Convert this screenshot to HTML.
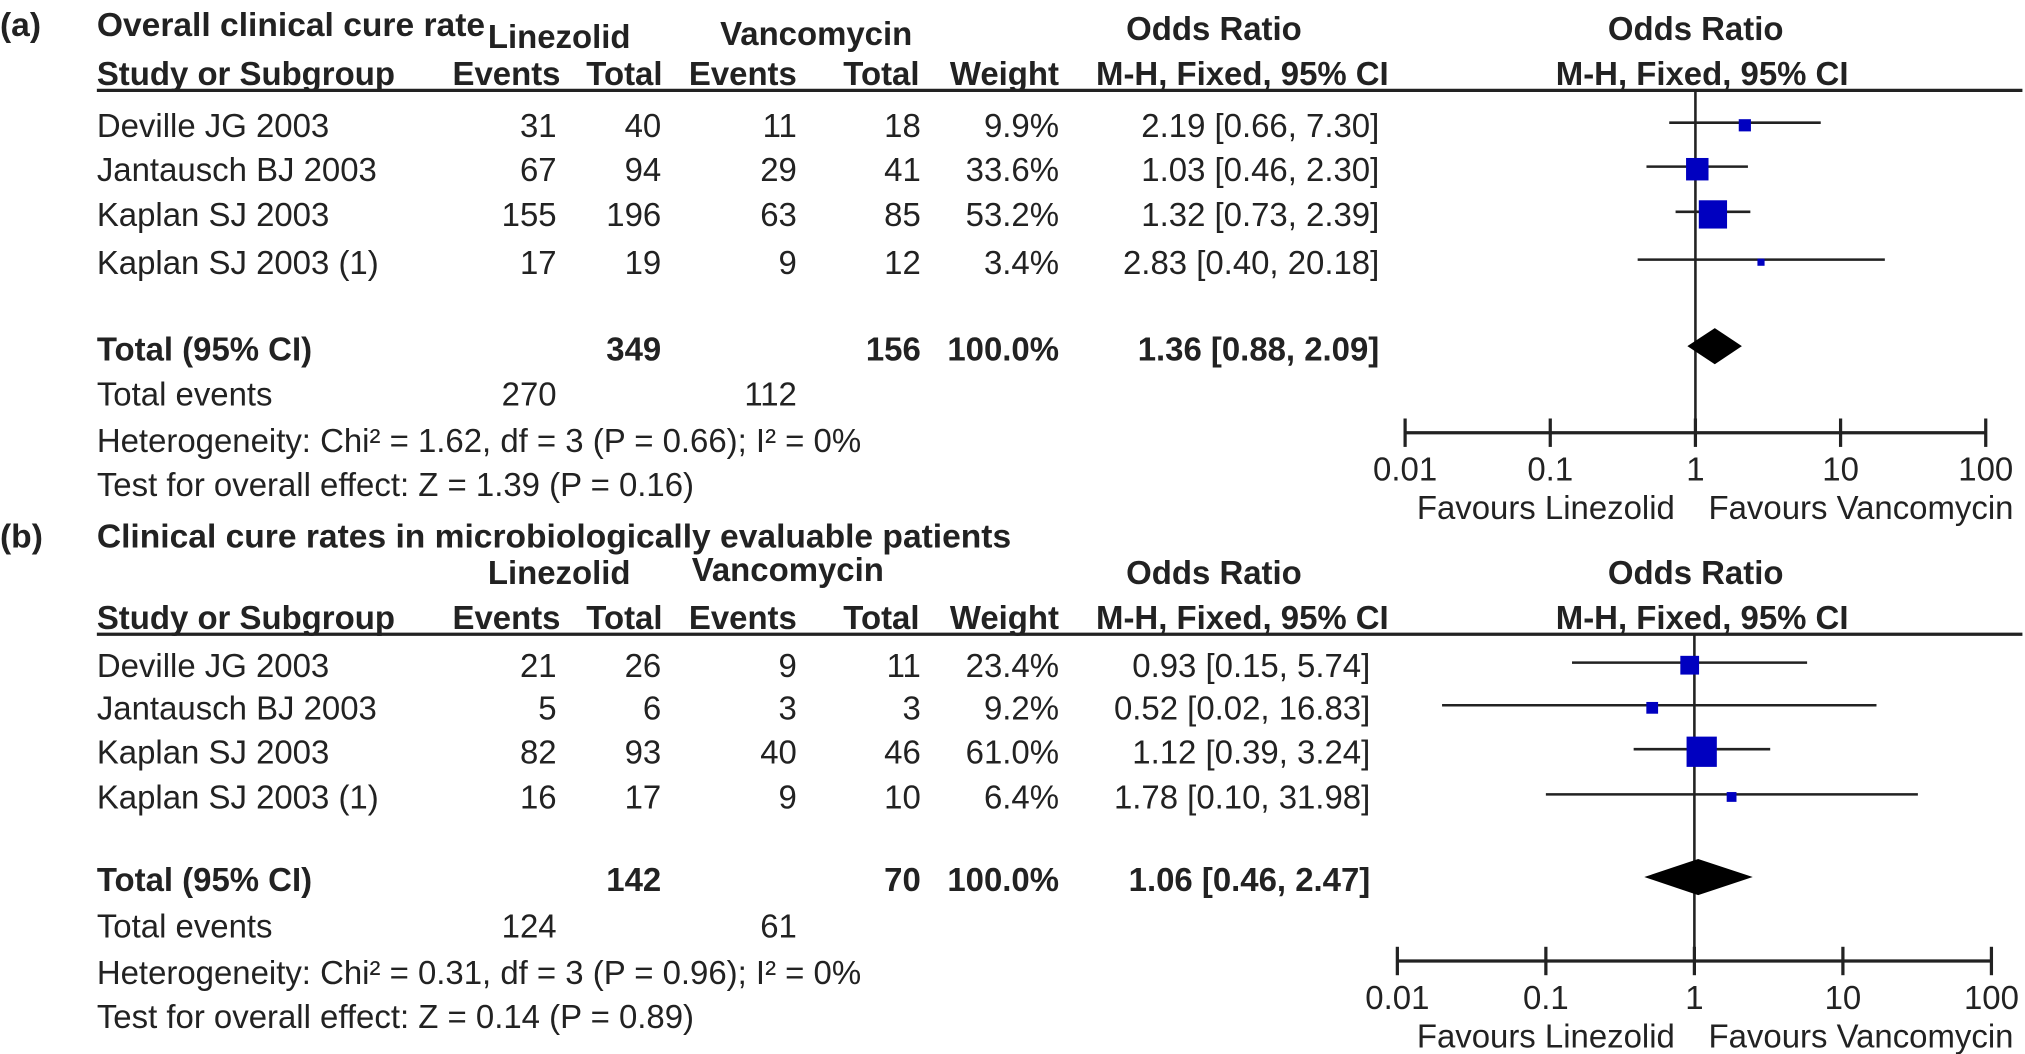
<!DOCTYPE html>
<html><head><meta charset="utf-8">
<style>
html,body{margin:0;padding:0;background:#fff;}
svg{display:block;}
text{font-family:"Liberation Sans",Arial,sans-serif;fill:#222;}
</style></head>
<body>
<svg id="chart" width="2025" height="1054" viewBox="0 0 1568 816" preserveAspectRatio="none" xmlns="http://www.w3.org/2000/svg"></svg>
<script>
// ---- Panel (a) data ----
const studiesA = ["Deville JG 2003","Jantausch BJ 2003","Kaplan SJ 2003","Kaplan SJ 2003 (1)"];
const linEventsA = [31,67,155,17];
const linTotalA = [40,94,196,19];
const vanEventsA = [11,29,63,9];
const vanTotalA = [18,41,85,12];
const weightA = [9.9,33.6,53.2,3.4];
const orA = [2.19,1.03,1.32,2.83];
const loA = [0.66,0.46,0.73,0.40];
const hiA = [7.30,2.30,2.39,20.18];
const totalA = {lin:349, van:156, ev1:270, ev2:112, or:1.36, lo:0.88, hi:2.09};
const hetA = "Heterogeneity: Chi\u00b2 = 1.62, df = 3 (P = 0.66); I\u00b2 = 0%";
const testA = "Test for overall effect: Z = 1.39 (P = 0.16)";
// ---- Panel (b) data ----
const studiesB = ["Deville JG 2003","Jantausch BJ 2003","Kaplan SJ 2003","Kaplan SJ 2003 (1)"];
const linEventsB = [21,5,82,16];
const linTotalB = [26,6,93,17];
const vanEventsB = [9,3,40,9];
const vanTotalB = [11,3,46,10];
const weightB = [23.4,9.2,61.0,6.4];
const orB = [0.93,0.52,1.12,1.78];
const loB = [0.15,0.02,0.39,0.10];
const hiB = [5.74,16.83,3.24,31.98];
const totalB = {lin:142, van:70, ev1:124, ev2:61, or:1.06, lo:0.46, hi:2.47};
const hetB = "Heterogeneity: Chi\u00b2 = 0.31, df = 3 (P = 0.96); I\u00b2 = 0%";
const testB = "Test for overall effect: Z = 0.14 (P = 0.89)";
const tickValues = [0.01,0.1,1,10,100];
const tickLabels = ["0.01","0.1","1","10","100"];

const svg = document.getElementById('chart');
const NS = "http://www.w3.org/2000/svg";
const FS = 25.5;
function el(tag, attrs, parent){
  const e = document.createElementNS(NS, tag);
  for (const k in attrs) e.setAttribute(k, attrs[k]);
  (parent||svg).appendChild(e);
  return e;
}
function txt(s, x, y, anchor, bold, size, name, parent){
  const t = el('text', {x:x, y:y, 'text-anchor':anchor||'start', 'font-size':size||FS, 'font-weight':bold?'bold':'normal'}, parent);
  t.textContent = s;
  
  
  return t;
}
function f2(v){return v.toFixed(2);}
function ciText(o,l,h){return f2(o)+" ["+f2(l)+", "+f2(h)+"]";}

function panel(cfg){
  const g = el('g', {});
  
  
  const P = cfg;
  txt(P.label, 0, P.titleY, 'start', true, 26, 'panel-label', g);
  txt(P.title, 75, P.titleY, 'start', true, P.titleSize, 'panel-title', g);
  txt("Linezolid", 433, P.groupY, 'middle', true, FS, 'linezolid-header', g);
  txt("Vancomycin", P.vanX, P.groupY - 2, 'middle', true, FS, 'vancomycin-header', g);
  txt("Odds Ratio", 940, P.orY, 'middle', true, FS, 'odds-ratio-header', g);
  txt("Odds Ratio", 1313, P.orY, 'middle', true, FS, 'forest-odds-ratio-header', g);
  const hy = P.headY;
  txt("Study or Subgroup", 75, hy, 'start', true, FS, 'study-column-header', g);
  txt("Events", 434, hy, 'end', true, FS, 'linezolid-events-header', g);
  txt("Total", 513, hy, 'end', true, FS, 'linezolid-total-header', g);
  txt("Events", 617, hy, 'end', true, FS, 'vancomycin-events-header', g);
  txt("Total", 712, hy, 'end', true, FS, 'vancomycin-total-header', g);
  txt("Weight", 820, hy, 'end', true, FS, 'weight-header', g);
  txt("M-H, Fixed, 95% CI", 962, hy, 'middle', true, FS, 'or-ci-header', g);
  txt("M-H, Fixed, 95% CI", 1318, hy, 'middle', true, FS, 'forest-ci-header', g);
  const ly = hy + 4;
  const hl = el('line', {x1:75, x2:1566, y1:ly, y2:ly, stroke:'#222', 'stroke-width':2.5}, g);
  
  

  const x0 = P.axX0, dec = P.dec;
  function xs(v){return x0 + (Math.log10(v) + 2) * dec;}
  const xc = xs(1);
  const vl = el('line', {x1:xc, x2:xc, y1:ly, y2:P.axisY, stroke:'#222', 'stroke-width':2}, g);
  
  
  const ax = el('line', {x1:xs(tickValues[0]), x2:xs(tickValues[tickValues.length-1]), y1:P.axisY, y2:P.axisY, stroke:'#222', 'stroke-width':2.5}, g);
  
  
  tickValues.forEach((v,i)=>{
    const t = el('line', {x1:xs(v), x2:xs(v), y1:P.axisY-11, y2:P.axisY+11, stroke:'#222', 'stroke-width':2.5}, g);
    
    
    txt(tickLabels[i], xs(v), P.axisY+37, 'middle', false, FS, 'x-tick-label', g);
  });
  txt("Favours Linezolid", 1197, P.axisY+67, 'middle', false, FS, 'favours-linezolid-label', g);
  txt("Favours Vancomycin", 1441, P.axisY+67, 'middle', false, FS, 'favours-vancomycin-label', g);

  P.studies.forEach((s,i)=>{
    const y = P.rowY[i];
    txt(s, 75, y, 'start', false, FS, 'study-name', g);
    txt(String(P.le[i]), 431, y, 'end', false, FS, 'linezolid-events', g);
    txt(String(P.lt[i]), 512, y, 'end', false, FS, 'linezolid-total', g);
    txt(String(P.ve[i]), 617, y, 'end', false, FS, 'vancomycin-events', g);
    txt(String(P.vt[i]), 713, y, 'end', false, FS, 'vancomycin-total', g);
    txt(P.w[i].toFixed(1)+"%", 820, y, 'end', false, FS, 'study-weight', g);
    txt(ciText(P.or[i],P.lo[i],P.hi[i]), P.ciR, y, 'end', false, FS, 'study-odds-ratio', g);
    const cy = y - 11;
    const ci = el('line', {x1:xs(P.lo[i]), x2:xs(P.hi[i]), y1:cy, y2:cy, stroke:'#222', 'stroke-width':2}, g);
    
    
    const sz = 3 * Math.sqrt(P.w[i]);
    const sq = el('rect', {x:xs(P.or[i])-sz/2, y:cy-sz/2+2, width:sz, height:sz, fill:'#0000c0'}, g);
    
    
  });
  const T = P.total, ty = P.totY;
  txt("Total (95% CI)", 75, ty, 'start', true, FS, 'total-label', g);
  txt(String(T.lin), 512, ty, 'end', true, FS, 'linezolid-total-n', g);
  txt(String(T.van), 713, ty, 'end', true, FS, 'vancomycin-total-n', g);
  txt("100.0%", 820, ty, 'end', true, FS, 'total-weight', g);
  txt(ciText(T.or,T.lo,T.hi), P.ciR, ty, 'end', true, FS, 'pooled-odds-ratio', g);
  const dy = ty - 11;
  const d = el('polygon', {points:[xs(T.lo)+','+dy, xs(T.or)+','+(dy-14), xs(T.hi)+','+dy, xs(T.or)+','+(dy+14)].join(' '), fill:'#000'}, g);
  
  
  txt("Total events", 75, P.evY, 'start', false, FS, 'total-events-label', g);
  txt(String(T.ev1), 431, P.evY, 'end', false, FS, 'linezolid-total-events', g);
  txt(String(T.ev2), 617, P.evY, 'end', false, FS, 'vancomycin-total-events', g);
  txt(P.het, 75, P.evY+36, 'start', false, FS, 'heterogeneity-text', g);
  txt(P.test, 75, P.evY+70, 'start', false, FS, 'overall-effect-text', g);
}

panel({name:'panel-a', label:'(a)', title:'Overall clinical cure rate', titleSize:26, titleY:28, groupY:37, orY:31, vanX:632, headY:66,
  studies:studiesA, le:linEventsA, lt:linTotalA, ve:vanEventsA, vt:vanTotalA, w:weightA, or:orA, lo:loA, hi:hiA,
  rowY:[106,140,175,212], totY:279, evY:314, total:totalA, het:hetA, test:testA, ciR:1068,
  axX0:1088, dec:112.4, axisY:335});
panel({name:'panel-b', label:'(b)', title:'Clinical cure rates in microbiologically evaluable patients', titleSize:26, titleY:424, groupY:452, orY:452, vanX:610, headY:487,
  studies:studiesB, le:linEventsB, lt:linTotalB, ve:vanEventsB, vt:vanTotalB, w:weightB, or:orB, lo:loB, hi:hiB,
  rowY:[524,557,591,626], totY:690, evY:726, total:totalB, het:hetB, test:testB, ciR:1061,
  axX0:1082, dec:115, axisY:744});
</script>
</body></html>
